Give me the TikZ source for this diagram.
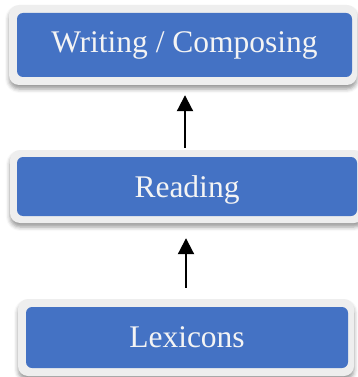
\documentclass[tikz,border=0pt]{standalone}
\usepackage{fontspec}
\setmainfont{Liberation Serif}
\usetikzlibrary{arrows.meta,shadows.blur}
\definecolor{boxblue}{HTML}{4472C4}
\definecolor{rimgray}{HTML}{EEEEEE}
\definecolor{labelwhite}{HTML}{F4F4F4}
\tikzset{
  rim/.style={fill=rimgray, rounded corners=10pt, inner sep=0pt,
    blur shadow={shadow xshift=0pt, shadow yshift=-4pt, shadow blur radius=4pt,
      shadow opacity=40}},
  stage/.style={fill=boxblue, rounded corners=6pt, inner sep=0pt, text=labelwhite,
    font=\fontsize{31.5}{36}\selectfont},
  flow/.style={-{Triangle[length=16pt,width=16pt]}, line width=2pt, draw=black},
}

\begin{document}
\begin{tikzpicture}[x=1pt, y=-1pt]
  \useasboundingbox (0,0) rectangle (358,377);
  % top stage
  \node[rim, minimum width=348pt, minimum height=80pt] (writerim) at (183,45) {};
  \node[stage, minimum width=335pt, minimum height=64pt] (write) at (184.5,45) {Writing / Composing};
  % middle stage
  \node[rim, minimum width=354pt, minimum height=73pt] (readrim) at (187,186.5) {};
  \node[stage, minimum width=340pt, minimum height=59pt, text depth=0pt] (read) at (187,186.5) {Reading};
  % bottom stage
  \node[rim, minimum width=336pt, minimum height=77pt] (lexrim) at (186,337.5) {};
  \node[stage, minimum width=322pt, minimum height=61pt] (lex) at (187,337.5) {Lexicons};
  % arrows between stages
  \draw[flow] ([xshift=-2pt,yshift=2pt]readrim.north) -- ([xshift=2pt,yshift=-10pt]writerim.south);
  \draw[flow] ([yshift=11pt]lexrim.north) -- ([xshift=-1pt,yshift=-15pt]readrim.south);
\end{tikzpicture}
\end{document}
